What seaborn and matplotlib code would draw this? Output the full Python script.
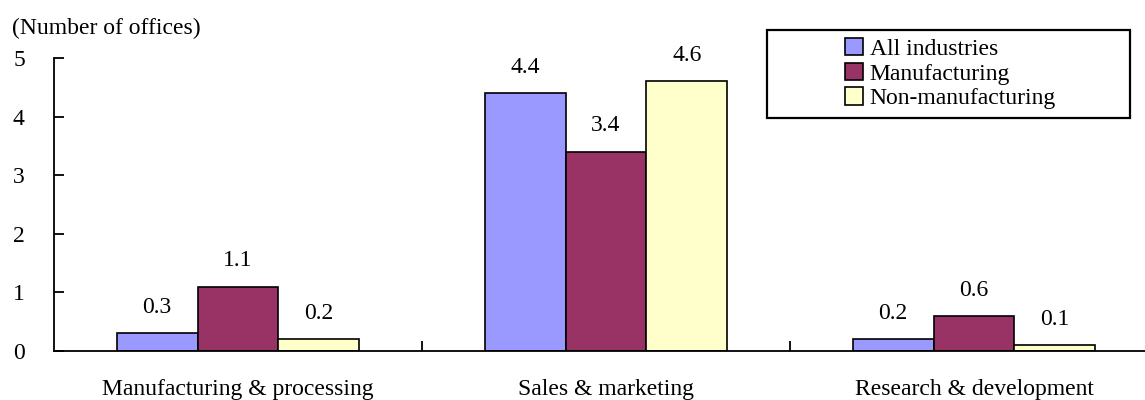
import matplotlib
matplotlib.use("Agg")
import matplotlib.pyplot as plt
import seaborn as sns
import pandas as pd
from matplotlib.patches import Rectangle, Patch

categories = ["Manufacturing & processing", "Sales & marketing", "Research & development"]
series = ["All industries", "Manufacturing", "Non-manufacturing"]
all_industries = [0.3, 4.4, 0.2]
manufacturing = [1.1, 3.4, 0.6]
non_manufacturing = [0.2, 4.6, 0.1]
colors = ["#9999FF", "#993366", "#FFFFCC"]

rows = []
for s, vals in zip(series, [all_industries, manufacturing, non_manufacturing]):
    for c, v in zip(categories, vals):
        rows.append({"category": c, "series": s, "value": v})
df = pd.DataFrame(rows)

sns.set_theme(style="white")
plt.rcParams["font.family"] = ["Liberation Serif", "DejaVu Serif"]
plt.rcParams["text.color"] = "black"
plt.rcParams["xtick.color"] = "black"
plt.rcParams["ytick.color"] = "black"
plt.rcParams["xtick.labelcolor"] = "black"
plt.rcParams["ytick.labelcolor"] = "black"

FS = 17

fig = plt.figure(figsize=(11.45, 4.0), dpi=100)
ax = fig.add_axes([54 / 1145, 1 - 351 / 400, (1158 - 54) / 1145, (351 - 58) / 400])

sns.barplot(data=df, x="category", y="value", hue="series", palette=colors,
            order=categories, hue_order=series, width=0.66, saturation=1,
            edgecolor="black", linewidth=1.2, ax=ax, legend=False)

for cont in ax.containers:
    ax.bar_label(cont, fmt="%.1f", padding=11, fontsize=FS, color="black")

ax.set_xlim(-0.5, 2.5)
ax.set_ylim(0, 5)
ax.set_yticks([0, 1, 2, 3, 4, 5])
ax.set_xlabel("")
ax.set_ylabel("")
for s in ["top", "right"]:
    ax.spines[s].set_visible(False)
for s in ["left", "bottom"]:
    ax.spines[s].set_color("black")
    ax.spines[s].set_linewidth(1.3)

ax.tick_params(axis="y", direction="in", length=7, width=1.3, pad=21, labelsize=FS, left=True)
ax.tick_params(axis="x", which="major", length=0, pad=20, labelsize=FS)
ax.set_xticks([0.5, 1.5], minor=True)
ax.tick_params(axis="x", which="minor", direction="in", length=7, width=1.3, bottom=True)

fig.text(12 / 1145, 1 - 28 / 400, "(Number of offices)", fontsize=FS, va="center", ha="left")

fig.patches.append(Rectangle((767 / 1145, 1 - 118 / 400), (1130 - 767) / 1145, (118 - 30) / 400,
                             transform=fig.transFigure, fill=False, edgecolor="black", linewidth=1.6))
handles = [Patch(facecolor=c, edgecolor="black", linewidth=1.2, label=s) for c, s in zip(colors, series)]
leg = fig.legend(handles=handles, loc="upper left", bbox_to_anchor=(845 / 1145, 1 - 38 / 400),
                 frameon=False, fontsize=FS, handlelength=0.75, handleheight=0.75,
                 handletextpad=0.3, labelspacing=0.12, borderpad=0.0, borderaxespad=0.0)

fig.savefig("out.png", dpi=100)
